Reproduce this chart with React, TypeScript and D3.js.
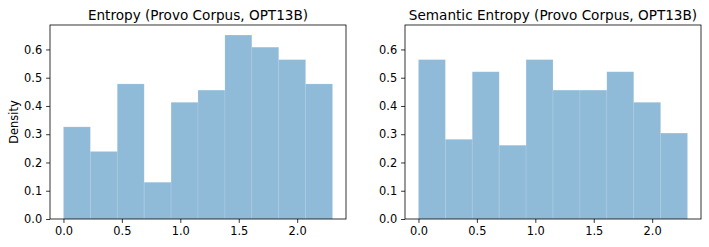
import React, { useEffect, useRef } from "react";
import * as d3 from "d3";

// bin edges: 10 equal bins from 0 to ln(10)
const binCount = 10;
const xMax = 2.302585;

const entropyDensity = [0.326, 0.239, 0.478, 0.13, 0.413, 0.456, 0.651, 0.608, 0.564, 0.478];
const semanticDensity = [0.564, 0.282, 0.521, 0.261, 0.564, 0.456, 0.456, 0.521, 0.413, 0.304];

const xTicks = [0, 0.5, 1.0, 1.5, 2.0];
const yTicks = [0, 0.1, 0.2, 0.3, 0.4, 0.5, 0.6];

const panels = [
  { title: "Entropy (Provo Corpus, OPT13B)", values: entropyDensity, left: 50, showYLabel: true },
  { title: "Semantic Entropy (Provo Corpus, OPT13B)", values: semanticDensity, left: 405, showYLabel: false },
];

const dims = { width: 709, height: 247, plotW: 296, top: 25, bottom: 219 };
const font = "DejaVu Sans, sans-serif";

const App = () => {
  const svgRef = useRef(null);

  useEffect(() => {
    const svgEl = d3.select(svgRef.current);
    svgEl.selectAll("*").remove();

    const pad = xMax * 0.05;
    const yScale = d3.scaleLinear().domain([0, 0.6865]).range([dims.bottom, dims.top]);
    const binW = xMax / binCount;

    panels.forEach((p) => {
      const xScale = d3
        .scaleLinear()
        .domain([-pad, xMax + pad])
        .range([p.left, p.left + dims.plotW]);

      const g = svgEl.append("g");

      g.selectAll("rect.bar")
        .data(p.values)
        .join("rect")
        .attr("class", "bar")
        .attr("x", (d, i) => xScale(i * binW))
        .attr("width", (d, i) => xScale((i + 1) * binW) - xScale(i * binW))
        .attr("y", (d) => yScale(d))
        .attr("height", (d) => yScale(0) - yScale(d))
        .attr("fill", "#1f77b4")
        .attr("fill-opacity", 0.5)
        .attr("stroke", "#ffffff")
        .attr("stroke-opacity", 0.15)
        .attr("stroke-width", 0.8);

      // frame
      g.append("rect")
        .attr("x", p.left)
        .attr("y", dims.top)
        .attr("width", dims.plotW)
        .attr("height", dims.bottom - dims.top)
        .attr("fill", "none")
        .attr("stroke", "#000")
        .attr("stroke-width", 0.8);

      const xAxis = d3.axisBottom(xScale).tickValues(xTicks).tickFormat(d3.format(".1f")).tickSize(3.9).tickPadding(3.9);
      const xg = g.append("g").attr("transform", `translate(0,${dims.bottom})`).call(xAxis);
      xg.select(".domain").remove();
      xg.selectAll("line").attr("stroke", "#000").attr("stroke-width", 0.8);
      xg.selectAll("text").attr("font-family", font).attr("font-size", 11.4).attr("fill", "#000");

      const yAxis = d3.axisLeft(yScale).tickValues(yTicks).tickFormat(d3.format(".1f")).tickSize(3.9).tickPadding(3.9);
      const yg = g.append("g").attr("transform", `translate(${p.left},0)`).call(yAxis);
      yg.select(".domain").remove();
      yg.selectAll("line").attr("stroke", "#000").attr("stroke-width", 0.8);
      yg.selectAll("text").attr("font-family", font).attr("font-size", 11.4).attr("fill", "#000");

      g.append("text")
        .attr("x", p.left + dims.plotW / 2)
        .attr("y", 19.5)
        .attr("text-anchor", "middle")
        .attr("font-family", font)
        .attr("font-size", 13.6)
        .attr("fill", "#000")
        .text(p.title);

      if (p.showYLabel) {
        g.append("text")
          .attr("transform", `translate(18,${(dims.top + dims.bottom) / 2}) rotate(-90)`)
          .attr("text-anchor", "middle")
          .attr("font-family", font)
          .attr("font-size", 11.4)
          .attr("fill", "#000")
          .text("Density");
      }
    });
  }, []);

  return (
    <svg
      ref={svgRef}
      width={dims.width}
      height={dims.height}
      style={{ position: "absolute", left: 0, top: 0, background: "#fff" }}
    />
  );
};

export default App;
